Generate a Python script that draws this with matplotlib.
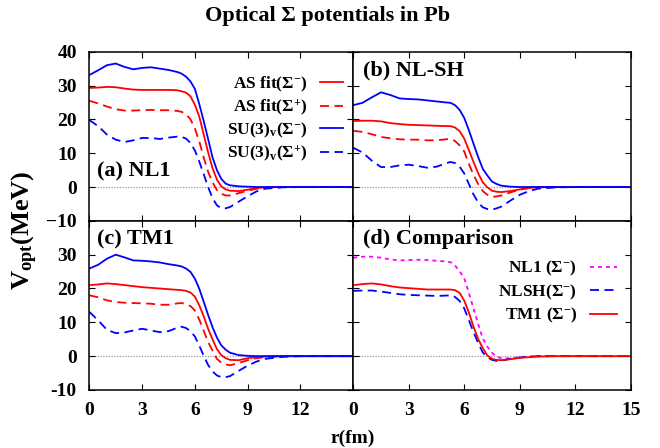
import matplotlib
matplotlib.use("Agg")
import matplotlib.pyplot as plt

plt.rcParams['font.family'] = ['Liberation Serif', 'DejaVu Serif']
plt.rcParams['font.weight'] = 'bold'
plt.rcParams['mathtext.fontset'] = 'custom'
plt.rcParams['mathtext.rm'] = 'Liberation Serif:bold'
plt.rcParams['mathtext.it'] = 'Liberation Serif:bold'
plt.rcParams['mathtext.bf'] = 'Liberation Serif:bold'

# radius grid (fm)
r = [0, 0.5, 1, 1.5, 2, 2.5, 3, 3.5, 4, 4.5, 5, 5.25, 5.5, 5.75, 6, 6.25, 6.5,
     6.75, 7, 7.25, 7.5, 7.75, 8, 8.5, 9, 9.5, 10, 11, 12, 13, 14, 15]

# (a) NL1
nl1_su3_m = [33.1, 34.5, 36.0, 36.5, 35.5, 34.8, 35.2, 35.4, 35.0, 34.6, 34.0, 33.5, 32.6,
             31.2, 29.0, 24.5, 19.5, 14.2, 8.8, 5.0, 2.4, 1.0, 0.5, 0.2, 0.1, 0, 0, 0, 0, 0, 0, 0]
nl1_as_m = [29.3, 29.4, 29.6, 29.5, 29.1, 28.8, 28.7, 28.7, 28.7, 28.7, 28.6, 28.3, 27.9,
            26.8, 24.3, 20.8, 15.5, 10.3, 5.6, 2.2, 0.2, -0.7, -1.1, -1.2, -0.8, -0.3, -0.1, 0, 0, 0, 0, 0]
nl1_as_p = [25.5, 24.7, 23.8, 23.0, 22.6, 22.6, 22.7, 22.8, 22.7, 22.7, 22.5, 22.2, 21.5,
            20.0, 17.3, 13.5, 8.7, 4.5, 1.4, -0.9, -2.0, -2.5, -2.5, -1.8, -1.1, -0.5, -0.2, 0, 0, 0, 0, 0]
nl1_su3_p = [19.8, 18.0, 15.5, 14.0, 13.3, 13.8, 14.5, 14.5, 14.2, 14.6, 14.9, 14.8, 14.3,
             13.0, 10.8, 7.5, 3.8, 0.0, -3.3, -5.4, -6.3, -6.3, -5.9, -4.3, -2.7, -1.3, -0.5, -0.1, 0, 0, 0, 0]

# (b) NL-SH
nlsh_su3_m = [24.2, 24.9, 26.5, 28.0, 27.2, 26.2, 26.0, 25.9, 25.6, 25.3, 25.0, 24.9, 24.2,
              22.8, 20.4, 16.8, 12.8, 8.9, 5.4, 3.4, 1.6, 0.9, 0.4, 0.1, 0, 0, 0, 0, 0, 0, 0, 0]
nlsh_as_m = [19.5, 19.6, 19.6, 19.4, 18.9, 18.6, 18.4, 18.3, 18.2, 18.1, 18.0, 18.0, 17.6,
             16.5, 14.3, 10.9, 7.4, 4.1, 1.4, -0.1, -1.1, -1.4, -1.5, -1.2, -0.7, -0.3, 0, 0, 0, 0, 0, 0]
nlsh_as_p = [16.6, 16.3, 15.6, 14.8, 14.4, 14.1, 14.0, 14.0, 13.8, 13.8, 14.1, 14.2, 13.6,
             12.3, 10.5, 6.8, 3.6, 0.9, -1.2, -2.3, -2.9, -2.8, -2.5, -1.6, -0.8, -0.3, -0.1, 0, 0, 0, 0, 0]
nlsh_su3_p = [11.6, 10.2, 7.8, 5.9, 5.9, 6.4, 6.6, 6.2, 5.7, 6.0, 7.0, 7.4, 7.1,
              6.0, 4.0, 0.9, -2.2, -4.5, -6.0, -6.5, -6.7, -6.3, -5.8, -4.0, -2.3, -1.2, -0.5, -0.1, 0, 0, 0, 0]

# (c) TM1
tm1_su3_m = [25.9, 27.0, 28.8, 30.0, 29.2, 28.3, 28.2, 28.0, 27.7, 27.2, 26.8, 26.5, 25.9,
             24.9, 22.9, 19.9, 16.1, 12.2, 8.6, 5.5, 3.2, 1.9, 1.0, 0.3, 0.1, 0, 0, 0, 0, 0, 0, 0]
tm1_as_m = [21.0, 21.2, 21.5, 21.3, 21.0, 20.7, 20.4, 20.2, 20.0, 19.8, 19.6, 19.5, 19.3,
            18.8, 17.6, 15.0, 11.8, 8.1, 5.0, 2.1, 0.3, -0.6, -1.1, -1.2, -0.6, -0.3, -0.1, 0, 0, 0, 0, 0]
tm1_as_p = [18.0, 17.4, 16.5, 16.0, 15.8, 15.7, 15.6, 15.5, 15.2, 15.2, 15.6, 15.7, 15.4,
            14.8, 13.5, 10.8, 7.5, 4.2, 1.6, -0.8, -1.9, -2.5, -2.7, -2.0, -1.2, -0.6, -0.3, 0, 0, 0, 0, 0]
tm1_su3_p = [13.1, 10.6, 7.8, 6.8, 7.0, 7.6, 8.1, 7.6, 7.1, 7.4, 8.4, 8.7, 8.3,
             7.4, 5.8, 3.1, 0.1, -2.6, -4.5, -5.7, -6.2, -6.2, -5.9, -4.3, -2.8, -1.6, -0.8, -0.2, 0, 0, 0, 0]

# (d) comparison
cmp_nl1 = [29.1, 29.4, 29.4, 29.1, 28.6, 28.3, 28.4, 28.5, 28.4, 28.2, 28.0, 27.8, 26.8,
           25.1, 23.0, 18.7, 14.1, 9.5, 5.3, 2.8, 1.0, -0.2, -0.6, -0.7, -0.3, -0.1, 0, 0, 0, 0, 0, 0]
cmp_nlsh = [19.3, 19.4, 19.4, 19.1, 18.7, 18.3, 18.1, 18.0, 17.9, 17.8, 17.9, 18.0, 17.5,
            16.3, 14.1, 10.6, 7.1, 3.9, 1.1, -0.3, -1.1, -1.4, -1.3, -0.8, -0.4, -0.2, 0, 0, 0, 0, 0, 0]
cmp_tm1 = [21.0, 21.3, 21.5, 21.2, 20.7, 20.3, 20.1, 19.9, 19.7, 19.7, 19.7, 19.7, 19.5,
           18.7, 16.4, 12.9, 8.7, 5.1, 2.4, 0.2, -0.8, -1.1, -1.2, -0.9, -0.5, -0.3, -0.1, 0, 0, 0, 0, 0]

labels4 = ['AS fit(Σ$^{-}$)', 'AS fit(Σ$^{+}$)', 'SU(3)$_{v}$(Σ$^{-}$)', 'SU(3)$_{v}$(Σ$^{+}$)']
labels_cmp = ['NL1 (Σ$^{-}$)', 'NLSH(Σ$^{-}$)', 'TM1 (Σ$^{-}$)']
panel_names = ['(a) NL1', '(b) NL-SH', '(c) TM1', '(d) Comparison']

fig, axes = plt.subplots(2, 2, figsize=(6.6, 4.48), dpi=100,
                         gridspec_kw={'width_ratios': [264, 277.4]})
fig.subplots_adjust(left=0.1353, right=0.9556, top=0.8846, bottom=0.1295, hspace=0, wspace=0)

dash = (0, (5, 3))
sets = [(nl1_as_m, nl1_as_p, nl1_su3_m, nl1_su3_p),
        (nlsh_as_m, nlsh_as_p, nlsh_su3_m, nlsh_su3_p),
        (tm1_as_m, tm1_as_p, tm1_su3_m, tm1_su3_p)]

for i, ax in enumerate(axes.flat):
    ax.axhline(0, color='#999999', lw=0.9, ls=(0, (1, 1.2)), zorder=1)
    if i < 3:
        am, ap, sm, sp = sets[i]
        ax.plot(r, am, color='#ff0000', lw=1.3, label=labels4[0])
        ax.plot(r, ap, color='#ff0000', lw=1.3, ls=dash, label=labels4[1])
        ax.plot(r, sm, color='#0000ff', lw=1.3, label=labels4[2])
        ax.plot(r, sp, color='#0000ff', lw=1.3, ls=dash, label=labels4[3])
    else:
        ax.plot(r, cmp_nl1, color='#ff00ff', lw=1.3, ls=(0, (2.2, 2.2)), label=labels_cmp[0])
        ax.plot(r, cmp_nlsh, color='#0000ff', lw=1.3, ls=dash, label=labels_cmp[1])
        ax.plot(r, cmp_tm1, color='#ff0000', lw=1.3, label=labels_cmp[2])
    ax.set_xlim(0, 15)
    ax.set_ylim(-10, 40)
    ax.set_xticks([0, 3, 6, 9, 12, 15])
    ax.set_yticks([-10, 0, 10, 20, 30, 40])
    ax.tick_params(direction='in', top=True, right=True, length=4, width=0.8, labelsize=14, pad=9)
    for s in ax.spines.values():
        s.set_linewidth(1.1)
    if i in (1, 3):
        ax.set_yticklabels([])
    if i in (0, 1):
        ax.set_xticklabels([])
    if i == 2:
        ax.set_yticklabels(['-10', '0', '10', '20', '30', ''])
        ax.set_xticklabels(['0', '3', '6', '9', '12', ''])

label_pos = [(0.028, 0.29), (0.034, 0.891), (0.03, 0.89), (0.034, 0.89)]
for ax, name, (tx, ty) in zip(axes.flat, panel_names, label_pos):
    ax.text(tx, ty, name, transform=ax.transAxes, fontsize=16, fontweight='bold', va='center')

axes[0, 0].legend(loc='upper right', bbox_to_anchor=(0.987, 0.905), frameon=False, markerfirst=False,
                  fontsize=12.5, handlelength=1.3, labelspacing=0.2, handletextpad=0.75,
                  borderaxespad=0, borderpad=0.4)
axes[1, 1].legend(loc='upper right', bbox_to_anchor=(0.976, 0.815), frameon=False, markerfirst=False,
                  fontsize=12.5, handlelength=1.55, labelspacing=0.25, handletextpad=0.75,
                  borderaxespad=0, borderpad=0.4)

fig.text(0.497, 0.965, 'Optical Σ potentials in Pb', ha='center', va='center', fontsize=16, fontweight='bold')
fig.text(0.038, 0.487, 'V$_{\\mathrm{opt}}$(MeV)', rotation=90, ha='center', va='center', fontsize=19)
fig.text(0.535, 0.022, 'r(fm)', ha='center', va='center', fontsize=14, fontweight='bold')

fig.savefig('out.png', dpi=100)
